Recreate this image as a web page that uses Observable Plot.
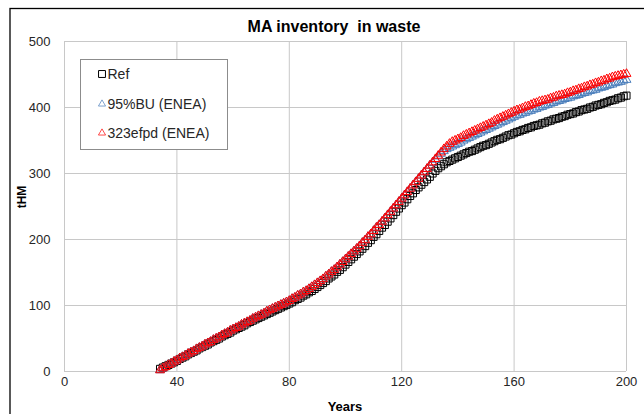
<!DOCTYPE html>
<html><head><meta charset="utf-8">
<script src="https://cdn.jsdelivr.net/npm/d3@7"></script>
<script src="https://cdn.jsdelivr.net/npm/@observablehq/plot@0.6"></script>
<style>body{margin:0;background:#fff;} svg{display:block}</style>
</head><body><div id="chart"></div>
<script>
const years = [34,35,36,37,38,39,40,
41,42,43,44,45,46,47,48,49,50,
51,52,53,54,55,56,57,58,59,60,
61,62,63,64,65,66,67,68,69,70,
71,72,73,74,75,76,77,78,79,80,
81,82,83,84,85,86,87,88,89,90,
91,92,93,94,95,96,97,98,99,100,
101,102,103,104,105,106,107,108,109,110,
111,112,113,114,115,116,117,118,119,120,
121,122,123,124,125,126,127,128,129,130,
131,132,133,134,135,136,137,138,139,140,
141,142,143,144,145,146,147,148,149,150,
151,152,153,154,155,156,157,158,159,160,
161,162,163,164,165,166,167,168,169,170,
171,172,173,174,175,176,177,178,179,180,
181,182,183,184,185,186,187,188,189,190,
191,192,193,194,195,196,197,198,199,200];

const refValues = [4,6,8,10,12,14,16,
19,21,23,26,28,30,32,35,37,39,
41,44,46,48,50,53,55,57,59,62,
64,66,68,70,73,75,77,79,81,83,
85,87,89,91,93,95,97,99,101,103,
105,108,110,112,115,117,120,122,125,128,
131,134,137,141,144,147,151,154,158,162,
166,170,174,178,182,186,190,195,199,204,
208,213,218,222,227,232,237,242,247,252,
256,261,266,270,275,279,283,287,291,295,
300,304,308,311,314,317,319,321,323,325,
327,329,331,333,334,336,338,340,342,343,
345,347,349,351,352,354,356,358,359,361,
363,364,366,367,369,370,372,373,374,376,
377,379,380,382,383,384,386,387,389,390,
391,393,394,396,397,398,400,401,403,404,
405,407,408,410,411,412,414,415,417,418];

const buValues = [2,5,7,10,12,15,17,
20,22,24,27,29,31,34,36,38,41,
43,45,48,50,52,55,57,59,62,64,
66,68,71,73,75,77,80,82,84,86,
88,91,93,95,97,99,101,103,105,107,
110,112,115,117,120,122,125,128,131,134,
137,140,144,147,151,154,158,162,166,170,
174,178,182,186,190,195,199,204,208,213,
218,222,227,232,237,242,247,252,257,262,
267,272,277,282,287,292,297,302,307,312,
316,321,326,330,334,337,339,341,343,345,
347,350,352,354,356,358,360,362,364,366,
368,370,372,374,376,378,380,382,384,386,
388,389,391,392,394,395,397,398,400,401,
403,404,406,407,409,410,411,413,414,415,
417,418,419,421,422,423,425,426,427,429,
430,431,433,434,435,437,438,439,441,442];

const efpdValues = [2,5,7,10,12,15,17,
20,22,24,27,29,31,34,36,38,41,
43,45,48,50,52,55,57,59,62,64,
66,68,71,73,75,77,80,82,84,86,
88,91,93,95,97,99,101,103,105,107,
110,112,115,117,120,122,125,128,131,134,
137,140,144,147,151,154,158,162,166,170,
174,178,182,186,190,195,199,204,208,213,
218,222,227,232,237,242,247,252,257,262,
267,272,277,282,287,292,297,302,307,312,
317,322,327,332,337,341,345,348,350,352,
354,357,359,361,363,365,367,369,371,373,
375,377,380,382,384,386,388,390,392,394,
396,397,399,401,402,404,406,407,409,410,
411,412,414,415,417,418,419,420,422,423,
425,426,428,429,431,432,434,435,437,438,
440,441,443,444,446,447,448,449,450,451];

const seriesNames = ["Ref", "95%BU (ENEA)", "323efpd (ENEA)"];
const xTicks = [0, 40, 80, 120, 160, 200];
const yTicks = [0, 100, 200, 300, 400, 500];
const titleText = "MA inventory  in waste";
const xTitle = "Years";
const yTitle = "tHM";

const seriesStyle = [
  {symbol: "square", r: 4.0, stroke: "#000000"},
  {symbol: "triangle", r: 3.3, stroke: "#4a7ebb"},
  {symbol: "triangle", r: 3.3, stroke: "#ff0000"}
];
const seriesValues = [refValues, buValues, efpdValues];
const tables = seriesValues.map((vals, k) => years.map((yr, i) => ({year: yr, value: vals[i], series: seriesNames[k]})));

const font = "'Liberation Sans', Arial, sans-serif";
const plot = Plot.plot({
  width: 644, height: 414,
  marginLeft: 64, marginRight: 18, marginTop: 41, marginBottom: 43,
  style: {fontFamily: font, fontSize: "13px", color: "#262626", background: "#fff"},
  x: {domain: [0, 200], label: null},
  y: {domain: [0, 500], label: null},
  marks: [
    Plot.gridX(xTicks, {stroke: "#c8c8c8", strokeOpacity: 1}),
    Plot.gridY(yTicks, {stroke: "#c8c8c8", strokeOpacity: 1}),
    Plot.axisX(xTicks, {tickSize: 0, tickPadding: 5, label: null, fontSize: 13}),
    Plot.axisY(yTicks, {tickSize: 0, tickPadding: 14, label: null, fontSize: 13}),
    ...tables.map((t, k) => Plot.dot(t, {x: "year", y: "value", symbol: seriesStyle[k].symbol, r: seriesStyle[k].r,
      stroke: seriesStyle[k].stroke, fill: "none", strokeWidth: 1}))
  ]
});
document.getElementById("chart").appendChild(plot);

const svg = d3.select(plot);
// outer chart frame
svg.append("rect").attr("x", 10).attr("y", 8.5).attr("width", 660).attr("height", 430)
  .attr("fill", "none").attr("stroke", "#000").attr("stroke-width", 1.3);
// title
svg.append("text").attr("x", 334).attr("y", 32).attr("text-anchor", "middle")
  .attr("font-family", font).attr("font-size", 16).attr("font-weight", "bold").attr("fill", "#000")
  .style("white-space", "pre").text(titleText);
// y title
svg.append("text").attr("transform", "translate(26,197) rotate(-90)").attr("text-anchor", "middle")
  .attr("font-family", font).attr("font-size", 12).attr("font-weight", "bold").attr("fill", "#000").text(yTitle);
// x title
svg.append("text").attr("x", 345).attr("y", 411).attr("text-anchor", "middle")
  .attr("font-family", font).attr("font-size", 13).attr("font-weight", "bold").attr("fill", "#000").text(xTitle);

// legend
const lg = svg.append("g");
lg.append("rect").attr("x", 80.5).attr("y", 59.5).attr("width", 147).attr("height", 90)
  .attr("fill", "#fff").attr("stroke", "#8c8c8c").attr("stroke-width", 1);
const legendY = [74, 104, 133];
const symMap = {square: d3.symbolSquare, triangle: d3.symbolTriangle};
seriesNames.forEach((name, k) => {
  const st = seriesStyle[k];
  lg.append("path").attr("transform", `translate(102,${legendY[k]})`)
    .attr("d", d3.symbol(symMap[st.symbol], k === 0 ? 48 : 22)())
    .attr("fill", "none").attr("stroke", st.stroke).attr("stroke-width", 1).attr("stroke-opacity", k === 0 ? 1 : 0.7);
  lg.append("text").attr("x", 107.5).attr("y", legendY[k] + 5).attr("text-anchor", "start")
    .attr("font-family", font).attr("font-size", 14)
    .attr("fill", "#262626").text(name);
});
</script>
</body></html>
